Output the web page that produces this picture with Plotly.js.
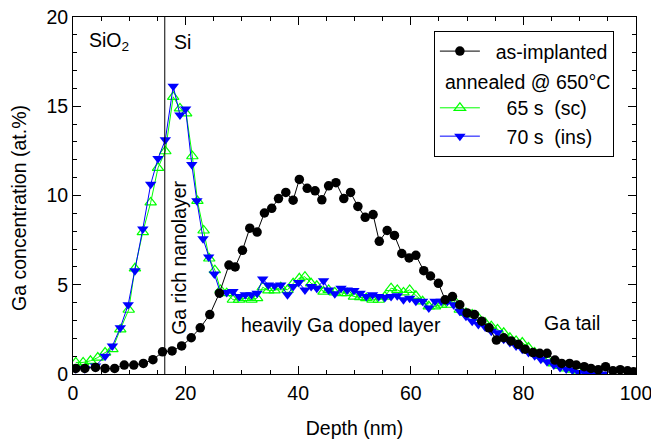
<!DOCTYPE html>
<html>
<head>
<meta charset="utf-8">
<script src="https://cdn.plot.ly/plotly-3.0.1.min.js"></script>
<style>html,body{margin:0;padding:0;background:#fff;}#chart{width:651px;height:441px;}</style>
</head>
<body>
<div id="chart"></div>
<script>
// As-implanted
var xBlack = [0.5,2.1,4.0,5.7,7.4,9.1,10.8,12.5,14.2,15.9,17.6,19.3,21.0,22.6,24.3,26.0,27.7,28.8,30.1,31.4,32.7,34.0,35.3,36.5,37.8,39.1,40.2,41.6,43.0,44.2,45.4,46.7,48.1,49.3,50.6,51.9,53.3,54.4,55.8,57.1,58.4,59.7,60.9,62.3,63.5,64.9,66.1,67.4,68.7,70.0,71.3,72.6,73.9,75.2,76.5,77.8,79.1,80.3,81.7,82.9,84.2,85.6,86.8,88.2,89.4,90.8,92.0,93.3,94.6,95.9,97.2,98.5,99.6];
var yBlack = [0.31,0.31,0.37,0.31,0.31,0.5,0.5,0.59,0.8,1.24,1.29,1.57,2.03,2.59,3.33,4.53,6.1,6.0,6.93,8.17,7.95,9.02,9.28,9.83,10.17,9.74,10.9,10.4,10.26,9.76,10.54,10.72,9.83,10.17,9.39,8.78,8.93,7.43,8.04,7.76,6.75,6.5,6.65,5.79,5.49,5.08,4.16,4.34,3.88,3.42,3.33,2.96,2.59,1.9,2.03,1.85,1.66,1.39,1.2,1.16,1.16,0.78,0.59,0.59,0.5,0.41,0.31,0.24,0.41,0.18,0.24,0.18,0.13];

// Annealed 65 s (sc)
var xGreen = [0.5,1.8,3.1,4.4,5.7,7.0,8.4,9.9,11.0,12.4,13.8,15.1,16.4,17.8,19.0,20.1,21.2,22.1,23.2,24.2,25.2,26.2,27.3,28.4,29.5,30.6,31.7,32.7,33.7,34.7,35.8,36.9,38.1,39.1,40.2,41.2,42.3,43.3,44.5,45.4,46.5,47.6,48.7,49.9,51.0,52.1,53.2,54.3,55.4,56.5,57.6,58.7,59.8,60.9,62.1,63.2,64.3,65.4,66.5,67.6,68.7,69.8,70.9,72.0,73.2,74.3,75.4,76.5,77.6,78.7,79.8,80.9,82.0,83.1,84.2,85.4,86.5,87.6,88.7,89.8,90.9,92.0,93.1];
var yGreen = [0.65,0.65,0.74,0.92,1.2,1.39,2.5,3.6,5.92,7.95,9.61,11.55,12.48,15.53,14.88,14.6,12.2,9.7,8.04,6.47,5.82,4.71,4.53,4.16,4.16,4.25,4.16,4.25,4.86,4.68,4.68,4.86,4.71,5.08,5.36,5.45,5.08,4.94,4.62,4.71,4.57,4.53,4.53,4.34,4.31,4.25,4.16,4.16,4.34,4.81,4.71,4.57,4.71,4.38,4.07,3.79,3.79,3.88,3.88,4.16,3.6,3.42,3.33,3.14,2.87,2.68,2.5,2.31,2.03,1.85,1.76,1.48,1.2,1.02,0.83,0.59,0.46,0.31,0.24,0.13,0.09,0.04,0.0];

// Annealed 70 s (ins)
var xBlue = [0.5,2.1,4.0,5.7,7.0,8.4,9.8,11.0,12.4,13.8,15.1,16.4,17.8,19.0,20.0,21.1,22.0,23.1,24.1,25.1,26.2,27.3,28.4,29.5,30.6,31.7,32.7,33.7,34.7,35.8,36.9,38.1,39.1,40.1,41.2,42.3,43.3,44.5,45.4,46.5,47.6,48.7,49.9,51.0,52.1,53.2,54.3,55.4,56.5,57.6,58.7,59.8,60.9,62.1,63.2,64.3,65.4,66.5,67.6,68.7,69.8,70.9,72.0,73.2,74.3,75.4,76.5,77.6,78.7,79.8,80.9,82.0,83.1,84.2,85.4,86.5,87.6,88.7,89.8,90.9,92.0,93.1,94.2];
var yBlue = [0.3,0.3,0.45,1.0,1.57,2.59,3.88,5.79,8.13,10.63,12.07,13.12,16.12,14.51,14.84,11.74,9.7,7.58,6.56,5.6,4.53,4.57,4.62,4.34,4.44,4.44,4.53,5.32,4.99,4.94,4.99,4.44,4.9,5.12,4.71,4.9,4.81,5.23,4.71,4.49,4.81,4.71,4.68,4.53,4.34,4.44,4.34,4.29,4.34,4.38,4.16,4.25,4.07,4.07,3.7,4.07,4.07,4.07,3.88,3.51,3.23,2.96,2.77,2.64,2.4,2.31,1.94,1.76,1.57,1.39,1.2,1.02,0.83,0.68,0.5,0.37,0.28,0.22,0.09,0.09,0.0,0.0,0.0];

var interfaceDepth = 16.3;

var FONT = 'Liberation Sans, Arial, sans-serif';
var FS = 19.5;
var NB = '\u00a0';

var traces = [
  {x: xGreen, y: yGreen, name: NB+NB+NB+NB+'65 s'+NB+NB+'(sc)', type: 'scatter', mode: 'lines+markers',
   line: {color: '#00ff00', width: 1}, legendrank: 3,
   marker: {symbol: 'triangle-up-open', size: 10, color: '#00ff00', line: {color: '#00ff00', width: 1.2}}},
  {x: xBlue, y: yBlue, name: NB+NB+NB+NB+'70 s'+NB+NB+'(ins)', type: 'scatter', mode: 'lines+markers',
   line: {color: '#0000ff', width: 1}, legendrank: 4,
   marker: {symbol: 'triangle-down', size: 10, color: '#0000ff'}},
  {x: [null], y: [null], name: NB.repeat(22), type: 'scatter', mode: 'lines',
   line: {color: 'rgba(0,0,0,0)', width: 0}, legendrank: 2, hoverinfo: 'skip'},
  {x: xBlack, y: yBlack, name: NB+NB+'as-implanted', type: 'scatter', mode: 'lines+markers',
   line: {color: '#000000', width: 1}, legendrank: 1,
   marker: {symbol: 'circle', size: 9.5, color: '#000000'}}
];

var layout = {
  width: 651, height: 441,
  margin: {l: 73, r: 15, t: 17, b: 67},
  paper_bgcolor: '#ffffff', plot_bgcolor: '#ffffff',
  font: {family: FONT, size: FS, color: '#000'},
  showlegend: true,
  legend: {x: 0.641, y: 0.961, xanchor: 'left', yanchor: 'top', bgcolor: '#ffffff', itemwidth: 40,
           bordercolor: '#000', borderwidth: 1, font: {family: FONT, size: FS}, tracegroupgap: 0},
  xaxis: {range: [0, 100], dtick: 20, ticks: 'inside', ticklen: 8, tickwidth: 1, tickcolor: '#000',
          showline: true, linecolor: '#000', linewidth: 1, mirror: 'ticks', showgrid: false, zeroline: false,
          minor: {dtick: 5, ticks: 'inside', ticklen: 4, tickcolor: '#000', showgrid: false},
          tickfont: {family: FONT, size: FS}, ticklabelstandoff: 2, ticklabeloverflow: 'allow',
          title: {text: 'Depth (nm)', font: {family: FONT, size: FS}, standoff: 17}},
  yaxis: {range: [0, 20], dtick: 5, ticks: 'inside', ticklen: 8, tickwidth: 1, tickcolor: '#000',
          showline: true, linecolor: '#000', linewidth: 1, mirror: 'ticks', showgrid: false, zeroline: false,
          minor: {dtick: 1, ticks: 'inside', ticklen: 4, tickcolor: '#000', showgrid: false},
          tickfont: {family: FONT, size: FS}, ticklabeloverflow: 'allow'},
  shapes: [
    {type: 'line', xref: 'x', yref: 'paper', x0: interfaceDepth, x1: interfaceDepth, y0: 0, y1: 1,
     line: {color: '#000', width: 1}}
  ],
  annotations: [
    {xref: 'paper', yref: 'paper', x: -0.096, y: 0.465, xanchor: 'center', yanchor: 'middle', textangle: -90,
     text: 'Ga concentration (at.%)', showarrow: false, font: {family: FONT, size: FS}},
    {xref: 'x', yref: 'y', x: 6.4, y: 18.6, text: 'SiO<sub>2</sub>', showarrow: false, font: {family: FONT, size: FS}},
    {xref: 'x', yref: 'y', x: 19.5, y: 18.6, text: 'Si', showarrow: false, font: {family: FONT, size: FS}},
    {xref: 'x', yref: 'y', x: 18.8, y: 6.5, text: 'Ga rich nanolayer', textangle: -90, showarrow: false, font: {family: FONT, size: FS}},
    {xref: 'x', yref: 'y', x: 47.6, y: 2.75, text: 'heavily Ga doped layer', showarrow: false, font: {family: FONT, size: FS}},
    {xref: 'x', yref: 'y', x: 88.6, y: 2.85, text: 'Ga tail', showarrow: false, font: {family: FONT, size: FS}},
    {xref: 'paper', yref: 'paper', x: 0.658, y: 0.818, xanchor: 'left', yanchor: 'middle', text: 'annealed @ 650°C', showarrow: false, font: {family: FONT, size: FS}}
  ]
};

Plotly.newPlot('chart', traces, layout, {displayModeBar: false, staticPlot: true});
</script>
</body>
</html>
